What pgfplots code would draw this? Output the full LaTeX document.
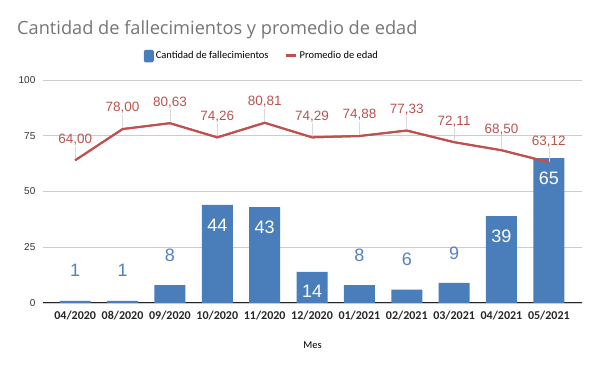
\documentclass[border=0pt]{standalone}
\usepackage{pgfplots}
\pgfplotsset{compat=1.18}
\usepackage{fontspec}
\setmainfont{Liberation Sans}
\newfontfamily\carlito{Carlito}
\newfontfamily\opensans{Open Sans}
\definecolor{barblue}{HTML}{4A7EBB}
\definecolor{linered}{HTML}{C0504D}
\definecolor{lblred}{HTML}{B85450}
\definecolor{lblblue}{HTML}{5580C0}
\definecolor{gridgray}{HTML}{CCCCCC}
\definecolor{titlegray}{HTML}{757575}
\begin{document}
\begin{tikzpicture}
\useasboundingbox (0,0) rectangle (600pt,371pt);
\node[anchor=west, text=titlegray, font=\opensans\fontsize{18.2}{20}\selectfont, inner sep=0] at (17pt,341pt) {Cantidad de fallecimientos y promedio de edad};
\begin{axis}[
  at={(43pt,68pt)}, anchor=south west,
  scale only axis, width=539pt, height=223pt,
  xmin=-0.68, xmax=10.7, ymin=0, ymax=100,
  xtick={0,...,10},
  xticklabels={04/2020,08/2020,09/2020,10/2020,11/2020,12/2020,01/2021,02/2021,03/2021,04/2021,05/2021},
  ytick={0,25,50,75,100},
  ymajorgrids, grid style={gridgray, line width=0.8pt},
  axis x line=bottom, axis y line=left,
  y axis line style={draw=none},
  x axis line style={-, black!85, line width=1pt},
  tick style={draw=none},
  /pgf/number format/assume math mode=true,
  yticklabel style={font=\fontsize{10}{12}\selectfont, text=black!80, anchor=east, xshift=-2pt},
  xticklabel style={font=\carlito\bfseries\fontsize{12}{14}\selectfont, text=black!85, yshift=-2pt},
  xlabel={Mes},
  xlabel style={font=\carlito\fontsize{10.5}{12}\selectfont, at={(axis description cs:0.5,-0.188)}, anchor=center},
  legend style={at={(0.406,1.108)}, anchor=center, draw=none, fill=none, legend columns=2,
    font=\carlito\fontsize{10.5}{12}\selectfont,
    /tikz/every even column/.append style={column sep=14pt}},
]
\addplot[ybar, bar width=31pt, fill=barblue, draw=none,
  legend image code/.code={\fill[barblue, rounded corners=1.5pt] (-0.5pt,-6.5pt) rectangle (9.5pt,6pt);}]
  coordinates {(0,1)(1,1)(2,8)(3,44)(4,43)(5,14)(6,8)(7,6)(8,9)(9,39)(10,65)};
\addlegendentry{Cantidad de fallecimientos}
\addplot[linered, line width=2pt, mark=none,
  legend image code/.code={\draw[linered, line width=3pt] (0pt,0pt) -- (10pt,0pt);},
  error bars/.cd, y dir=plus, y fixed=6.3, error mark=none,
  error bar style={black!15, line width=0.6pt},
  ]
  coordinates {(0,64.00)(1,78.00)(2,80.63)(3,74.26)(4,80.81)(5,74.29)(6,74.88)(7,77.33)(8,72.11)(9,68.50)(10,63.12)};
\addlegendentry{Promedio de edad}
\addplot[linered, line width=2pt, mark=none, forget plot,
  nodes near coords={\pgfmathprintnumber[fixed, fixed zerofill, precision=2, use comma]{\pgfplotspointmeta}},
  every node near coord/.append style={text=lblred, font=\fontsize{13.5}{15}\selectfont, anchor=center, yshift=21pt}]
  coordinates {(0,64.00)(1,78.00)(2,80.63)(3,74.26)(4,80.81)(5,74.29)(6,74.88)(7,77.33)(8,72.11)(9,68.50)(10,63.12)};
\addplot[draw=none, mark=none, forget plot, nodes near coords,
  every node near coord/.append style={text=white, font=\fontsize{18}{20}\selectfont, anchor=center, yshift=-20pt}]
  coordinates {(3,44)(4,43)(5,14)(9,39)(10,65)};
\addplot[draw=none, mark=none, forget plot, nodes near coords,
  every node near coord/.append style={text=lblblue, font=\fontsize{18}{20}\selectfont, anchor=center, yshift=30pt}]
  coordinates {(0,1)(1,1)(2,8)(6,8)(7,6)(8,9)};
\end{axis}
\end{tikzpicture}
\end{document}
